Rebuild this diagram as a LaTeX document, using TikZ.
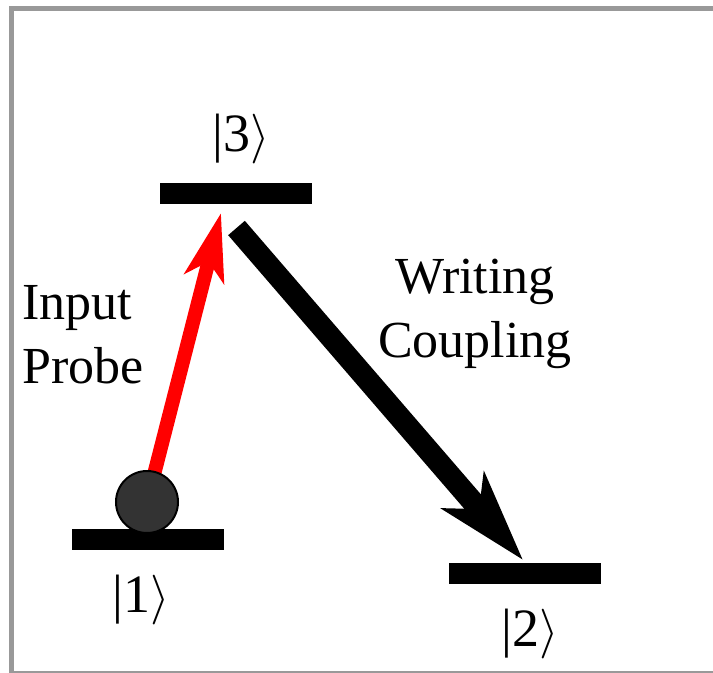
\documentclass[tikz,border=0pt]{standalone}
\usepackage{fontspec}
\setmainfont{Liberation Serif}
\usetikzlibrary{arrows.meta,positioning}
\begin{document}
\begin{tikzpicture}[x=0.5pt, y=-0.5pt,
    level/.style={fill=black, inner sep=0pt, minimum width=76pt, minimum height=10.5pt},
    ket/.style={font=\fontsize{27}{30}\selectfont, inner sep=0pt},
    tag/.style={font=\fontsize{26}{32}\selectfont, inner sep=0pt},
    atomball/.style={circle, fill=ballgray, draw=black, line width=1pt, inner sep=0pt, minimum size=31pt},
    probe/.style={draw=probered, line width=7pt, -{Stealth[length=33.5pt, width=20pt, inset=8.5pt]}},
    writing/.style={draw=black, line width=11pt, -{Stealth[length=45.5pt, width=27.5pt, inset=12pt]}},
    frame/.style={draw=framegray, line width=2.5pt}]
    \definecolor{ballgray}{RGB}{51, 51, 51}
    \definecolor{probered}{RGB}{255, 0, 0}
    \definecolor{framegray}{RGB}{153, 153, 153}
    \useasboundingbox (0,0) rectangle (713,673);
    \clip (0,0) rectangle (713,673);
    \draw[frame] (11.5,673.5) rectangle (722,8.5);
    % energy levels
    \node[level] (lvl3) at (236,193.5) {};
    \node[level] (lvl1) at (147.5,539.5) {};
    \node[level] (lvl2) at (525,573.5) {};
    \node[ket] (k3) at (241.5,139) {|3$\rangle$};
    \node[ket] (k1) at (141,600) {|1$\rangle$};
    \node[ket] (k2) at (530.5,634) {|2$\rangle$};
    % transitions
    \coordinate (atom) at (147,502);
    \coordinate (probetip) at (221,213);
    \coordinate (writestart) at (236.5,228);
    \coordinate (writetip) at (523,560);
    \draw[probe] (atom) -- (probetip);
    \draw[writing] (writestart) -- (writetip);
    \node[atomball] (ball) at (atom) {};
    \node[tag, align=left, anchor=base west] (probetxt) at (22,384) {Input\\Probe};
    \node[tag, align=center, anchor=base] (writetxt) at (475,358) {Writing\\Coupling};
\end{tikzpicture}
\end{document}
